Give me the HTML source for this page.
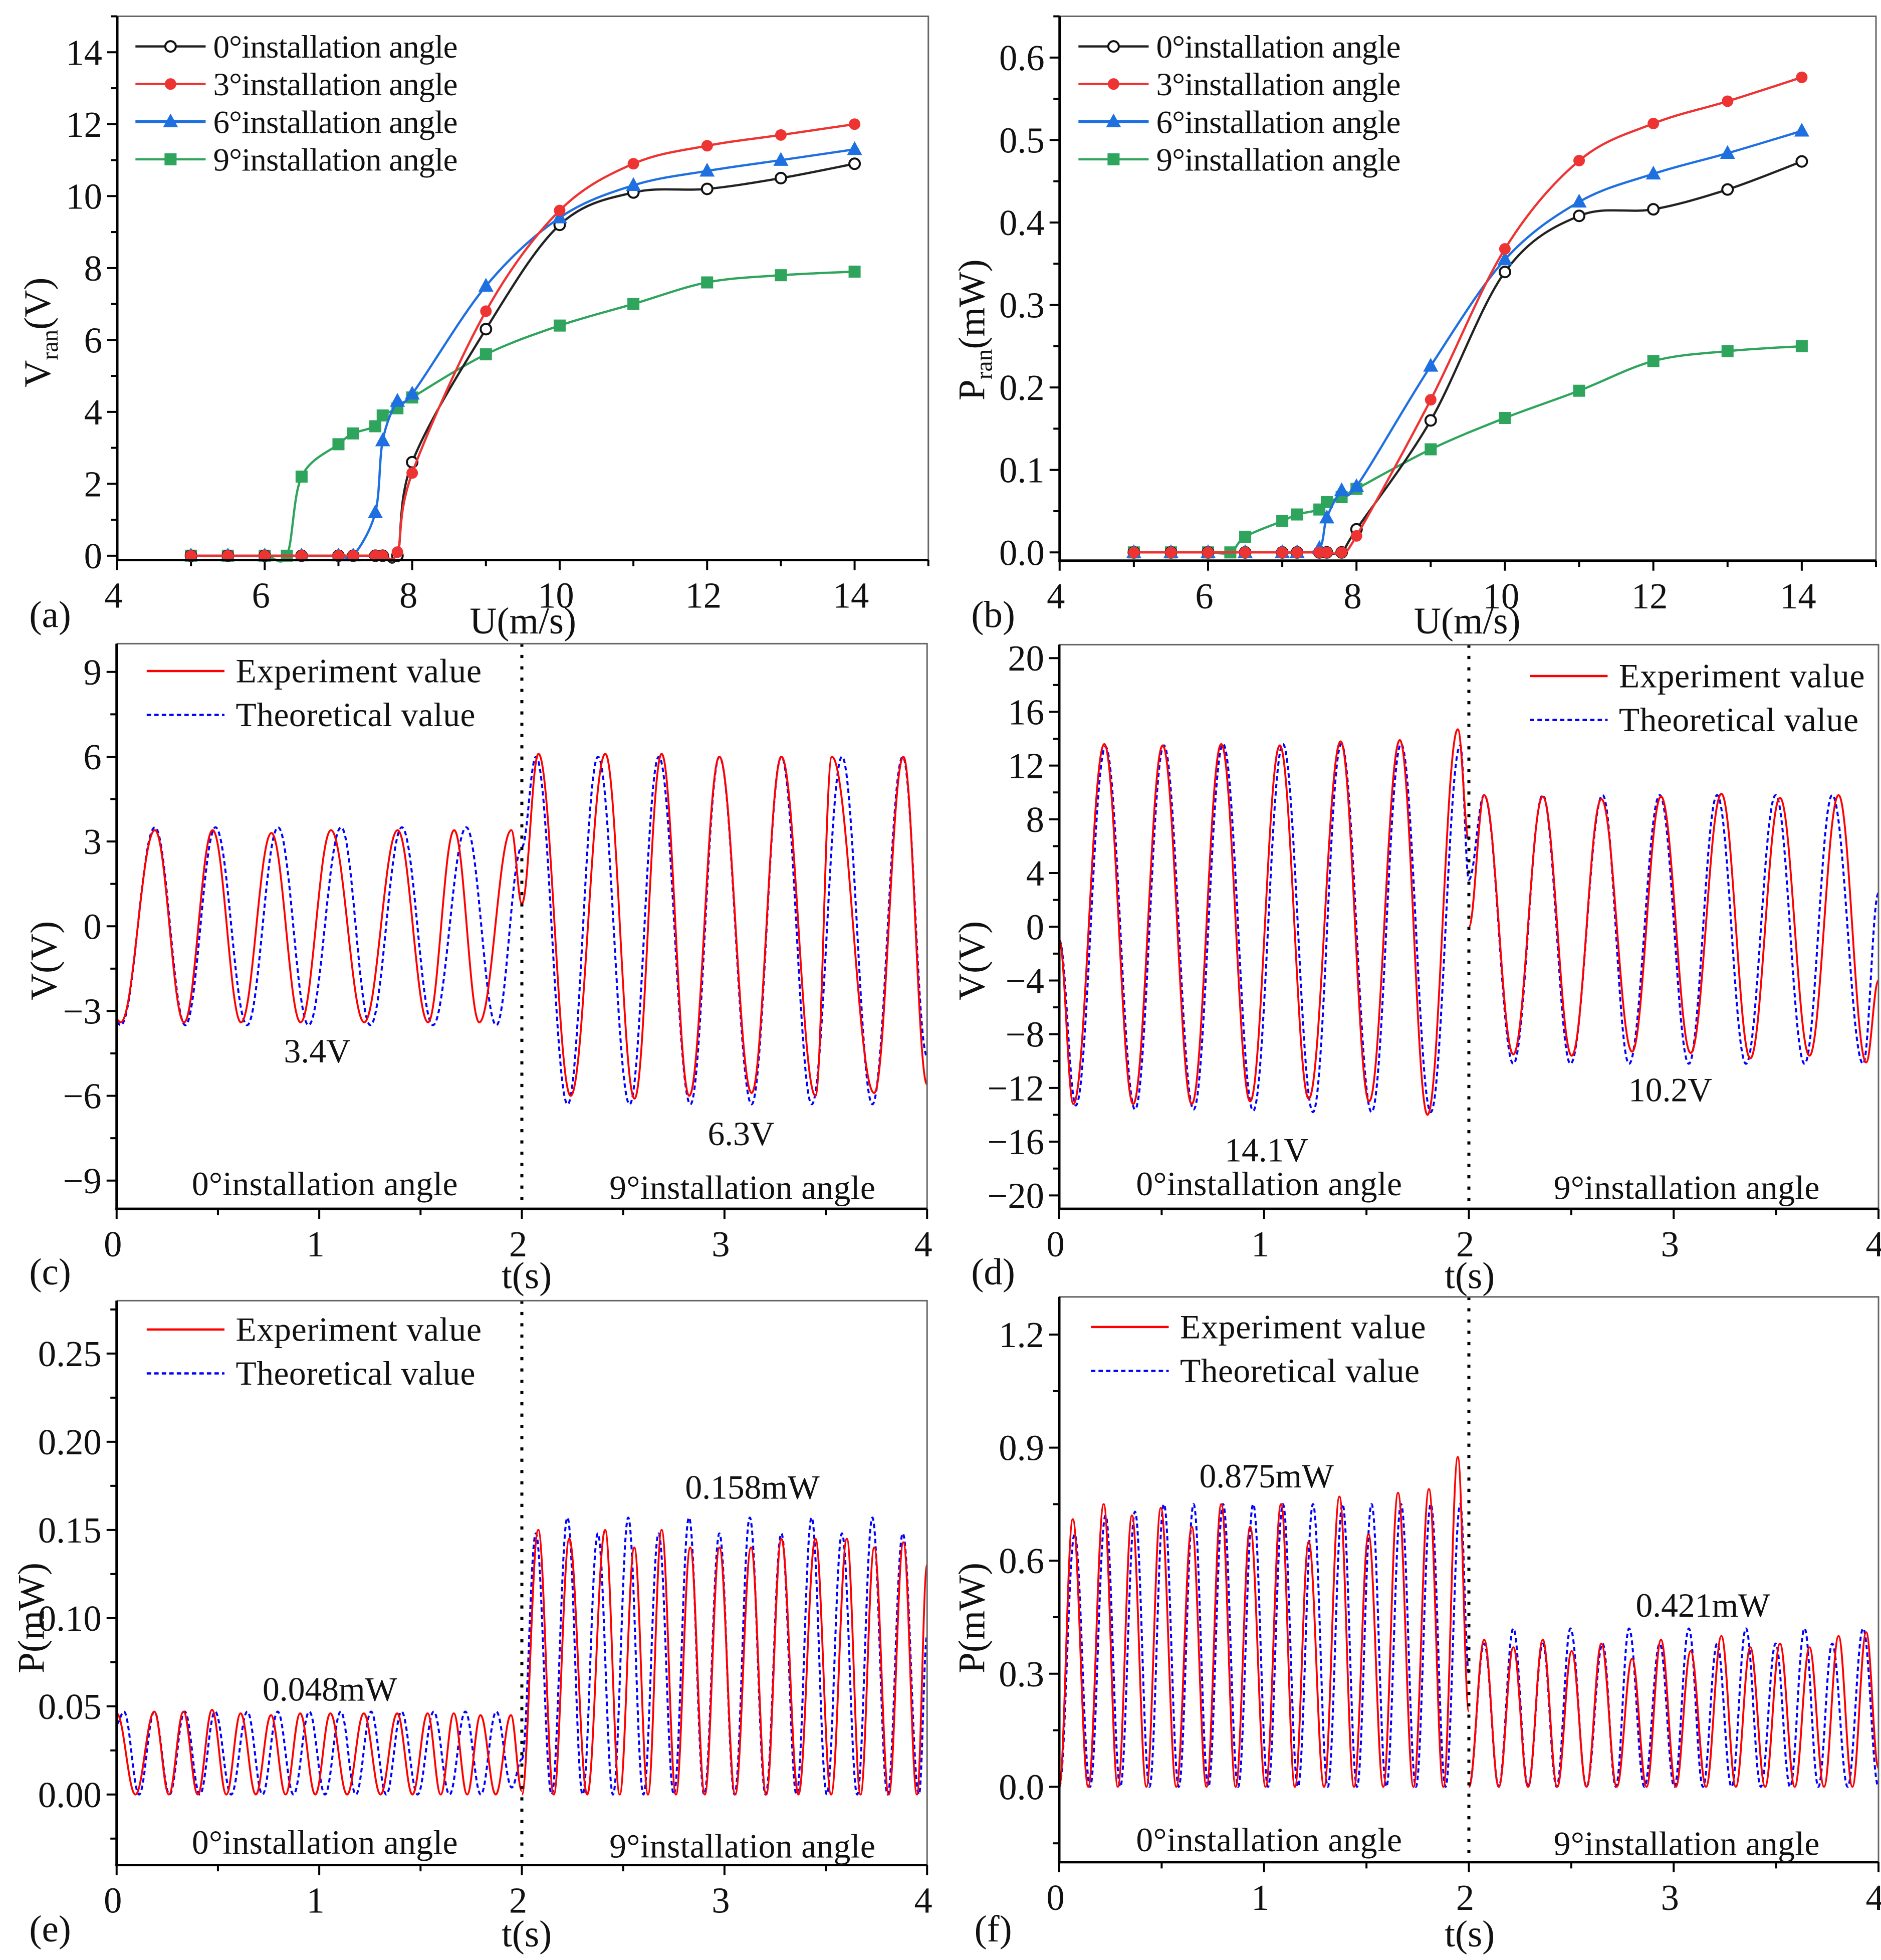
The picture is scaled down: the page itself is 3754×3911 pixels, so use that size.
<!DOCTYPE html>
<html><head><meta charset="utf-8"><style>
html,body{margin:0;padding:0;background:#fff;}
svg{display:block;}
text{font-family:"Liberation Serif","Times New Roman",serif;fill:#111;}
</style></head><body>
<svg id="fig" xmlns="http://www.w3.org/2000/svg" width="3754" height="3911" viewBox="0 0 1500 1562.7" preserveAspectRatio="none"></svg>
<script>
// ---------- Panel (a)/(b) data ----------
const uDeg0 = [5,5.5,6,6.5,7,7.2,7.5,7.6,7.8,8,9,10,11,12,13,14];
const vDeg0 = [0,0,0,0,0,0,0,0,0,2.6,6.3,9.2,10.1,10.2,10.5,10.9];
const uDeg3 = [5,5.5,6,6.5,7,7.2,7.5,7.6,7.8,8,9,10,11,12,13,14];
const vDeg3 = [0,0,0,0,0,0,0,0,0.1,2.3,6.8,9.6,10.9,11.4,11.7,12.0];
const uDeg6 = [5,5.5,6,6.5,7,7.2,7.5,7.6,7.8,8,9,10,11,12,13,14];
const vDeg6 = [0,0,0,0,0,0,1.2,3.2,4.3,4.5,7.5,9.4,10.3,10.7,11.0,11.3];
const uDeg9 = [5,5.5,6,6.3,6.5,7,7.2,7.5,7.6,7.8,8,9,10,11,12,13,14];
const vDeg9 = [0,0,0,0,2.2,3.1,3.4,3.6,3.9,4.1,4.4,5.6,6.4,7.0,7.6,7.8,7.9];
const pDeg0 = [0,0,0,0,0,0,0,0,0,0.028,0.16,0.34,0.408,0.416,0.44,0.474];
const pDeg3 = [0,0,0,0,0,0,0,0,0,0.02,0.185,0.368,0.475,0.52,0.547,0.576];
const pDeg6 = [0,0,0,0,0,0,0.005,0.042,0.075,0.08,0.226,0.355,0.425,0.459,0.484,0.511];
const pDeg9 = [0,0,0,0,0.019,0.038,0.046,0.052,0.061,0.067,0.077,0.125,0.163,0.196,0.232,0.244,0.25];
const uTicks = [4,6,8,10,12,14];
const vTicks = [0,2,4,6,8,10,12,14];
const pTicks = ["0.0","0.1","0.2","0.3","0.4","0.5","0.6"];
const tTicks = [0,1,2,3,4];

// ---------- Panel (c) voltage extrema ----------
const cRed0Peaks = [[0.189,3.4],[0.474,3.4],[0.764,3.3],[1.058,3.4],[1.387,3.4],[1.666,3.4],[1.948,3.4]];
const cRed0Troughs = [[0.02,-3.4],[0.333,-3.4],[0.614,-3.4],[0.908,-3.4],[1.222,-3.4],[1.537,-3.4],[1.79,-3.4]];
const cRed0Ends = [[0,-3.3],[2.0,0.8]];
const cBlue0Peaks = [[0.189,3.5],[0.488,3.5],[0.797,3.5],[1.108,3.5],[1.408,3.5],[1.726,3.5]];
const cBlue0Troughs = [[0.02,-3.5],[0.339,-3.5],[0.644,-3.5],[0.947,-3.5],[1.252,-3.5],[1.561,-3.5],[1.874,-3.5]];
const cBlue0Ends = [[0,-3.4],[2.0,2.8]];
const cRed9Peaks = [[2.082,6.1],[2.412,6.1],[2.69,6.1],[2.975,6.0],[3.281,6.0],[3.53,6.0],[3.883,6.0]];
const cRed9Troughs = [[2.241,-6.0],[2.556,-6.1],[2.826,-6.0],[3.134,-5.9],[3.449,-6.0],[3.739,-5.9]];
const cRed9Ends = [[2.0,0.8],[4.0,-5.6]];
const cBlue9Peaks = [[2.07,6.0],[2.376,6.0],[2.676,6.0],[2.975,6.0],[3.281,6.0],[3.58,6.0],[3.88,6.0]];
const cBlue9Troughs = [[2.226,-6.3],[2.532,-6.3],[2.832,-6.3],[3.134,-6.3],[3.431,-6.3],[3.73,-6.3]];
const cBlue9Ends = [[2.0,2.8],[4.0,-4.6]];

// ---------- Panel (d) voltage extrema ----------
const dRed0Peaks = [[0.22,13.6],[0.505,13.5],[0.791,13.6],[1.077,13.5],[1.374,13.8],[1.663,13.9],[1.946,14.7]];
const dRed0Troughs = [[0.069,-13.2],[0.361,-13.2],[0.647,-13.2],[0.932,-13.0],[1.218,-12.8],[1.513,-13.0],[1.798,-14.0]];
const dRed0Ends = [[0,-1.0],[2.0,6.5]];
const dBlue0Peaks = [[0.226,13.4],[0.511,13.5],[0.8,13.6],[1.092,13.6],[1.377,13.6],[1.669,13.6],[1.958,13.5]];
const dBlue0Troughs = [[0.081,-13.3],[0.37,-13.6],[0.656,-13.6],[0.947,-13.7],[1.239,-13.8],[1.525,-13.8],[1.814,-13.8]];
const dBlue0Ends = [[0,-1.0],[2.0,3.5]];
const dRed9Peaks = [[2.075,9.8],[2.361,9.7],[2.647,9.5],[2.938,9.7],[3.233,9.9],[3.519,9.6],[3.805,9.8]];
const dRed9Troughs = [[2.217,-9.5],[2.502,-9.6],[2.797,-9.3],[3.083,-9.4],[3.374,-9.8],[3.663,-9.6],[3.94,-10.1]];
const dRed9Ends = [[2.0,0.0],[4.0,-4.0]];
const dBlue9Peaks = [[2.075,9.8],[2.361,9.8],[2.653,9.8],[2.932,9.8],[3.212,9.8],[3.498,9.8],[3.774,9.8]];
const dBlue9Troughs = [[2.217,-10.2],[2.496,-10.2],[2.782,-10.2],[3.074,-10.2],[3.353,-10.2],[3.639,-10.2],[3.925,-10.2]];
const dBlue9Ends = [[2.0,3.5],[4.0,2.5]];

// ---------- Panel (e) power peaks ----------
const eRed0Peaks = [[0,0.046],[0.186,0.047],[0.33,0.047],[0.471,0.048],[0.612,0.046],[0.762,0.045],[0.906,0.046],[1.055,0.046],[1.22,0.046],[1.385,0.046],[1.535,0.046],[1.664,0.046],[1.796,0.045],[1.946,0.045]];
const eRed0Tail = [[2.0,0.002]];
const eBlue0Peaks = [[0.036,0.047],[0.186,0.047],[0.336,0.047],[0.486,0.047],[0.645,0.047],[0.795,0.047],[0.951,0.047],[1.106,0.047],[1.256,0.047],[1.406,0.047],[1.565,0.047],[1.721,0.047],[1.874,0.047]];
const eBlue0Tail = [[1.95,0.004],[2.0,0.02]];
const eRed9Peaks = [[2.081,0.15],[2.234,0.145],[2.411,0.15],[2.555,0.14],[2.69,0.15],[2.831,0.14],[2.975,0.14],[3.131,0.14],[3.281,0.145],[3.449,0.145],[3.604,0.145],[3.739,0.14],[3.883,0.143]];
const eRed9Tail = [[3.95,0],[4.0,0.13]];
const eBlue9Peaks = [[2.069,0.148],[2.225,0.157],[2.375,0.148],[2.525,0.157],[2.675,0.148],[2.825,0.157],[2.975,0.148],[3.125,0.157],[3.281,0.148],[3.43,0.157],[3.58,0.148],[3.73,0.157],[3.88,0.148]];
const eBlue9Tail = [[3.96,0.0],[4.0,0.09]];

// ---------- Panel (f) power peaks ----------
const fRed0Peaks = [[0.066,0.71],[0.217,0.75],[0.355,0.72],[0.496,0.74],[0.647,0.69],[0.791,0.75],[0.932,0.69],[1.083,0.75],[1.218,0.65],[1.368,0.77],[1.51,0.67],[1.654,0.78],[1.805,0.79],[1.946,0.875]];
const fRed0Tail = [[2.0,0.2]];
const fBlue0Peaks = [[0.075,0.67],[0.226,0.72],[0.37,0.73],[0.511,0.75],[0.656,0.75],[0.8,0.75],[0.947,0.75],[1.092,0.75],[1.239,0.75],[1.383,0.75],[1.525,0.75],[1.669,0.75],[1.814,0.75],[1.958,0.75]];
const fBlue0Tail = [[2.0,0.3]];
const fRed9Peaks = [[2.075,0.39],[2.217,0.37],[2.361,0.39],[2.502,0.36],[2.647,0.38],[2.797,0.34],[2.938,0.39],[3.083,0.36],[3.233,0.4],[3.374,0.37],[3.519,0.38],[3.663,0.37],[3.805,0.4],[3.94,0.41]];
const fRed9Tail = [[4.0,0.05]];
const fBlue9Peaks = [[2.075,0.38],[2.217,0.42],[2.361,0.38],[2.496,0.42],[2.653,0.38],[2.782,0.42],[2.932,0.38],[3.074,0.42],[3.212,0.38],[3.353,0.42],[3.498,0.38],[3.639,0.42],[3.774,0.38],[3.925,0.42]];
const fBlue9Tail = [[4.0,0.0]];

const NS = "http://www.w3.org/2000/svg";
const svg = document.getElementById('fig');
function mk(tag, attrs, parent){
  const e = document.createElementNS(NS, tag);
  for (const k in attrs) e.setAttribute(k, attrs[k]);
  (parent||svg).appendChild(e);
  return e;
}
function txt(s, x, y, size, anchor, parent){
  const t = mk('text', {x:x, y:y, 'font-size':size, 'text-anchor':anchor||'middle'}, parent);
  t.textContent = s;
  return t;
}
function panel(name, L,R,T,B,xmin,xmax,ymin,ymax){
  const g = mk('g', {});
  
  
  const P = {g,L,R,T,B,
    x: v => L + (v - xmin)/(xmax - xmin)*(R - L),
    y: v => B - (v - ymin)/(ymax - ymin)*(B - T)};
  const clipId = 'clip-' + name;
  const cp = mk('clipPath', {id: clipId}, g);
  mk('rect', {x:L, y:T, width:R-L, height:B-T}, cp);
  P.plot = mk('g', {'clip-path': 'url(#'+clipId+')'}, g);
  
  
  return P;
}
function frame(P){
  const f = mk('path', {d:`M${P.L},${P.T} H${P.R} V${P.B}`, fill:'none', stroke:'#666', 'stroke-width':1.2}, P.g);
  
  
  const ax = mk('line', {x1:P.L, y1:P.T, x2:P.L, y2:P.B+1, stroke:'#000', 'stroke-width':2}, P.g);
  
  
  const bx = mk('line', {x1:P.L-1, y1:P.B, x2:P.R, y2:P.B, stroke:'#000', 'stroke-width':2}, P.g);
  
  
}
function xTicks(P, labels, minorStep, lo, hi){
  for (let v = lo; v <= hi + 1e-9; v += minorStep){
    const isMajor = labels.some(l => Math.abs(parseFloat(l) - v) < 1e-9);
    mk('line', {x1:P.x(v), x2:P.x(v), y1:P.B, y2:P.B + (isMajor?8:5), stroke:'#000', 'stroke-width':1.6}, P.g);
  }
  labels.forEach(l => {
    const t = txt(String(l), P.x(parseFloat(l)) - 3, P.B + 38, 29, 'middle', P.g);
    
    
  });
}
function yTicks(P, labels, minorStep, lo, hi){
  for (let v = lo; v <= hi + 1e-9; v += minorStep){
    const isMajor = labels.some(l => Math.abs(parseFloat(l.replace('\u2212','-')) - v) < 1e-9);
    mk('line', {x1:P.L - (isMajor?8:5), x2:P.L, y1:P.y(v), y2:P.y(v), stroke:'#000', 'stroke-width':1.6}, P.g);
  }
  labels.forEach(l => {
    const t = txt(String(l), P.L - 12, P.y(parseFloat(String(l).replace('\u2212','-'))) + 10, 29, 'end', P.g);
    
    
  });
}
function yTitle(P, x, y, main, sub, rest){
  const t = mk('text', {x:0, y:0, 'font-size':30, 'text-anchor':'middle', transform:`translate(${x},${y}) rotate(-90)`}, P.g);
  
  
  const a = mk('tspan', {}, t); a.textContent = main;
  if (sub){ const s = mk('tspan', {'font-size':19, dy:6}, t); s.textContent = sub;
    const r = mk('tspan', {dy:-6}, t); r.textContent = rest; }
  return t;
}
function smoothPath(P, xs, ys){
  const pts = xs.map((u,i)=>[P.x(u), P.y(ys[i])]);
  let d = `M${pts[0][0]},${pts[0][1]}`;
  for (let i=0;i<pts.length-1;i++){
    const p0 = pts[Math.max(0,i-1)], p1 = pts[i], p2 = pts[i+1], p3 = pts[Math.min(pts.length-1,i+2)];
    const k = 6;
    const c1 = [p1[0]+(p2[0]-p0[0])/k, p1[1]+(p2[1]-p0[1])/k];
    const c2 = [p2[0]-(p3[0]-p1[0])/k, p2[1]-(p3[1]-p1[1])/k];
    d += ` C${c1[0]},${c1[1]} ${c2[0]},${c2[1]} ${p2[0]},${p2[1]}`;
  }
  return d;
}
function marker(g, kind, cx, cy, color){
  if (kind==='circle-open') return mk('circle', {cx, cy, r:4.2, fill:'#fff', stroke:'#111', 'stroke-width':1.6}, g);
  if (kind==='circle') return mk('circle', {cx, cy, r:4.6, fill:color}, g);
  if (kind==='tri') return mk('path', {d:`M${cx},${cy-6.5} L${cx+6},${cy+4.5} L${cx-6},${cy+4.5}Z`, fill:color}, g);
  return mk('rect', {x:cx-4.8, y:cy-4.8, width:9.6, height:9.6, fill:color}, g);
}
function scatterSeries(P, name, xs, ys, color, kind){
  const g = mk('g', {}, P.g);
  
  
  mk('path', {d:smoothPath(P, xs, ys), fill:'none', stroke:color, 'stroke-width':1.8}, g);
  xs.forEach((u,i)=>{
    const m = marker(g, kind, P.x(u), P.y(ys[i]), color);
    
    
  });
}
function legendMarkers(P, x0, y0, entries){
  entries.forEach((e,i)=>{
    const y = y0 + i*30;
    const g = mk('g', {}, P.g);
    
    
    mk('line', {x1:x0, x2:x0+56, y1:y, y2:y, stroke:e.color, 'stroke-width':e.kind==='tri'?2.6:1.8}, g);
    marker(g, e.kind, x0+28, y, e.color);
    const t = txt(e.label, x0+62, y+9, 26, 'start', g);
    t.setAttribute('textLength', 195);
  });
}
function oscPath(P, pts){
  pts = pts.slice().sort((a,b)=>a[0]-b[0]);
  let d = `M${P.x(pts[0][0])},${P.y(pts[0][1])}`;
  for (let i=0;i<pts.length-1;i++){
    const x1=P.x(pts[i][0]), y1=P.y(pts[i][1]), x2=P.x(pts[i+1][0]), y2=P.y(pts[i+1][1]);
    const dx = (x2-x1)*0.38;
    d += ` C${x1+dx},${y1} ${x2-dx},${y2} ${x2},${y2}`;
  }
  return d;
}
function vSeries(P, name, peaks, troughs, ends, color, dashed){
  const p = mk('path', {d:oscPath(P, peaks.concat(troughs, ends)), fill:'none', stroke:color, 'stroke-width':dashed?1.6:1.5, 'stroke-dasharray':dashed?'3.5 2.5':'none'}, P.plot);
  
  
}
function pSeries(P, name, head, peaks, tail, color, dashed){
  const pts = head.slice();
  peaks.forEach((pk,i)=>{
    if (i>0) pts.push([(peaks[i-1][0]+pk[0])/2, 0]);
    pts.push(pk);
  });
  tail.forEach(t=>pts.push(t));
  const p = mk('path', {d:oscPath(P, pts), fill:'none', stroke:color, 'stroke-width':dashed?1.6:1.5, 'stroke-dasharray':dashed?'3.5 2.5':'none'}, P.plot);
  
  
}
function divider(P){
  const l = mk('line', {x1:P.x(2), x2:P.x(2), y1:P.T, y2:P.B, stroke:'#000', 'stroke-width':2.4, 'stroke-dasharray':'2.5 6.5'}, P.g);
  
  
}
function tsLegend(P, x0, y0){
  const g1 = mk('g', {}, P.g);
  
  
  mk('line', {x1:x0, x2:x0+62, y1:y0, y2:y0, stroke:'#f00', 'stroke-width':1.8}, g1);
  txt('Experiment value', x0+71, y0+9, 27, 'start', g1).setAttribute('textLength', 196);
  const g2 = mk('g', {}, P.g);
  
  
  mk('line', {x1:x0, x2:x0+62, y1:y0+35, y2:y0+35, stroke:'#00f', 'stroke-width':1.8, 'stroke-dasharray':'3.5 2.5'}, g2);
  txt('Theoretical value', x0+71, y0+44, 27, 'start', g2).setAttribute('textLength', 191);
}
function note(P, s, x, y, name, len){
  const t = txt(s, x, y, 27, 'middle', P.g);
  
  
  if (len) t.setAttribute('textLength', len);
  return t;
}
function panelLetter(P, s, x, y){
  const t = txt(s, x, y, 30, 'middle', P.g);
  
  
}
function xTitle(P, s, x, y){
  const t = txt(s, x, y, 30, 'middle', P.g);
  
  
}
const legendEntries = [
  {label:'0°installation angle', color:'#222', kind:'circle-open'},
  {label:'3°installation angle', color:'#ee3333', kind:'circle'},
  {label:'6°installation angle', color:'#1e6fe0', kind:'tri'},
  {label:'9°installation angle', color:'#2fa45c', kind:'square'}];

// ---- (a)
const A = panel('panel-a-voltage-vs-windspeed', 93.5, 740.3, 13, 446.5, 4, 15, -0.12, 15);
xTicks(A, uTicks, 1, 4, 15); yTicks(A, vTicks.map(String), 1, 0, 15);
scatterSeries(A, 'series-9deg', uDeg9, vDeg9, '#2fa45c', 'square');
scatterSeries(A, 'series-0deg', uDeg0, vDeg0, '#222', 'circle-open');
scatterSeries(A, 'series-6deg', uDeg6, vDeg6, '#1e6fe0', 'tri');
scatterSeries(A, 'series-3deg', uDeg3, vDeg3, '#ee3333', 'circle');
frame(A); legendMarkers(A, 108, 37, legendEntries);
yTitle(A, 40, 265, 'V', 'ran', '(V)'); xTitle(A, 'U(m/s)', 417, 505); panelLetter(A, '(a)', 40, 500);

// ---- (b)
const Bp = panel('panel-b-power-vs-windspeed', 845, 1496, 13, 447, 4, 15, -0.01, 0.65);
xTicks(Bp, uTicks, 1, 4, 15); yTicks(Bp, pTicks, 0.05, 0, 0.65);
scatterSeries(Bp, 'series-9deg', uDeg9, pDeg9, '#2fa45c', 'square');
scatterSeries(Bp, 'series-0deg', uDeg0, pDeg0, '#222', 'circle-open');
scatterSeries(Bp, 'series-6deg', uDeg6, pDeg6, '#1e6fe0', 'tri');
scatterSeries(Bp, 'series-3deg', uDeg3, pDeg3, '#ee3333', 'circle');
frame(Bp); legendMarkers(Bp, 860, 37, legendEntries);
yTitle(Bp, 785, 263, 'P', 'ran', '(mW)'); xTitle(Bp, 'U(m/s)', 1170, 505); panelLetter(Bp, '(b)', 792, 500);

// ---- (c)
const C = panel('panel-c-voltage-time-3ms', 93, 739.3, 513.2, 963.8, 0, 4, -10, 10);
xTicks(C, tTicks, 0.5, 0, 4); yTicks(C, ['9','6','3','0','\u22123','\u22126','\u22129'], 1.5, -9, 9);
vSeries(C, 'theoretical-0deg', cBlue0Peaks, cBlue0Troughs, cBlue0Ends, '#00f', true);
vSeries(C, 'theoretical-9deg', cBlue9Peaks, cBlue9Troughs, cBlue9Ends, '#00f', true);
vSeries(C, 'experiment-0deg', cRed0Peaks, cRed0Troughs, cRed0Ends, '#f00', false);
vSeries(C, 'experiment-9deg', cRed9Peaks, cRed9Troughs, cRed9Ends, '#f00', false);
divider(C); frame(C); tsLegend(C, 117, 535);
note(C, '3.4V', 253, 847, 'amplitude-label-0deg'); note(C, '6.3V', 591, 913, 'amplitude-label-9deg');
note(C, '0°installation angle', 259, 953, 'region-label-0deg', 212); note(C, '9°installation angle', 592, 956, 'region-label-9deg', 212);
yTitle(C, 45, 766, 'V(V)'); xTitle(C, 't(s)', 420, 1027); panelLetter(C, '(c)', 40, 1024);

// ---- (d)
const D = panel('panel-d-voltage-time-5ms', 844.7, 1498, 514, 963.8, 0, 4, -21, 21);
xTicks(D, tTicks, 0.5, 0, 4); yTicks(D, ['20','16','12','8','4','0','\u22124','\u22128','\u221212','\u221216','\u221220'], 2, -20, 20);
vSeries(D, 'theoretical-0deg', dBlue0Peaks, dBlue0Troughs, dBlue0Ends, '#00f', true);
vSeries(D, 'theoretical-9deg', dBlue9Peaks, dBlue9Troughs, dBlue9Ends, '#00f', true);
vSeries(D, 'experiment-0deg', dRed0Peaks, dRed0Troughs, dRed0Ends, '#f00', false);
vSeries(D, 'experiment-9deg', dRed9Peaks, dRed9Troughs, dRed9Ends, '#f00', false);
divider(D); frame(D); tsLegend(D, 1220, 539);
note(D, '14.1V', 1010, 926, 'amplitude-label-0deg'); note(D, '10.2V', 1332, 878, 'amplitude-label-9deg');
note(D, '0°installation angle', 1012, 953, 'region-label-0deg', 212); note(D, '9°installation angle', 1345, 956, 'region-label-9deg', 212);
yTitle(D, 785, 766, 'V(V)'); xTitle(D, 't(s)', 1172, 1027); panelLetter(D, '(d)', 792, 1024);

// ---- (e)
const E = panel('panel-e-power-time-3ms', 93, 739.3, 1037, 1487, 0, 4, -0.04, 0.28);
xTicks(E, tTicks, 0.5, 0, 4); yTicks(E, ['0.00','0.05','0.10','0.15','0.20','0.25'], 0.025, -0.025, 0.275);
pSeries(E, 'theoretical-0deg', [[0,0.04]], eBlue0Peaks, eBlue0Tail, '#00f', true);
pSeries(E, 'theoretical-9deg', [[2.0,0.02]], eBlue9Peaks, eBlue9Tail, '#00f', true);
pSeries(E, 'experiment-0deg', [], eRed0Peaks, eRed0Tail, '#f00', false);
pSeries(E, 'experiment-9deg', [[2.0,0.0]], eRed9Peaks, eRed9Tail, '#f00', false);
divider(E); frame(E); tsLegend(E, 117, 1060);
note(E, '0.048mW', 263, 1356, 'amplitude-label-0deg'); note(E, '0.158mW', 600, 1195, 'amplitude-label-9deg');
note(E, '0°installation angle', 259, 1478, 'region-label-0deg', 212); note(E, '9°installation angle', 592, 1481, 'region-label-9deg', 212);
yTitle(E, 35, 1290, 'P(mW)'); xTitle(E, 't(s)', 420, 1552); panelLetter(E, '(e)', 40, 1548);

// ---- (f)
const F = panel('panel-f-power-time-5ms', 844.7, 1498, 1034, 1484.7, 0, 4, -0.2, 1.3);
xTicks(F, tTicks, 0.5, 0, 4); yTicks(F, ['0.0','0.3','0.6','0.9','1.2'], 0.15, -0.15, 1.2);
pSeries(F, 'theoretical-0deg', [[0,0.0]], fBlue0Peaks, fBlue0Tail, '#00f', true);
pSeries(F, 'theoretical-9deg', [[2.0,0.0]], fBlue9Peaks, fBlue9Tail, '#00f', true);
pSeries(F, 'experiment-0deg', [[0,0.0]], fRed0Peaks, fRed0Tail, '#f00', false);
pSeries(F, 'experiment-9deg', [[2.0,0.0]], fRed9Peaks, fRed9Tail, '#f00', false);
divider(F); frame(F); tsLegend(F, 870, 1058);
note(F, '0.875mW', 1010, 1186, 'amplitude-label-0deg'); note(F, '0.421mW', 1358, 1289, 'amplitude-label-9deg');
note(F, '0°installation angle', 1012, 1476, 'region-label-0deg', 212); note(F, '9°installation angle', 1345, 1479, 'region-label-9deg', 212);
yTitle(F, 785, 1290, 'P(mW)'); xTitle(F, 't(s)', 1172, 1552); panelLetter(F, '(f)', 792, 1548);
</script>
</body></html>
